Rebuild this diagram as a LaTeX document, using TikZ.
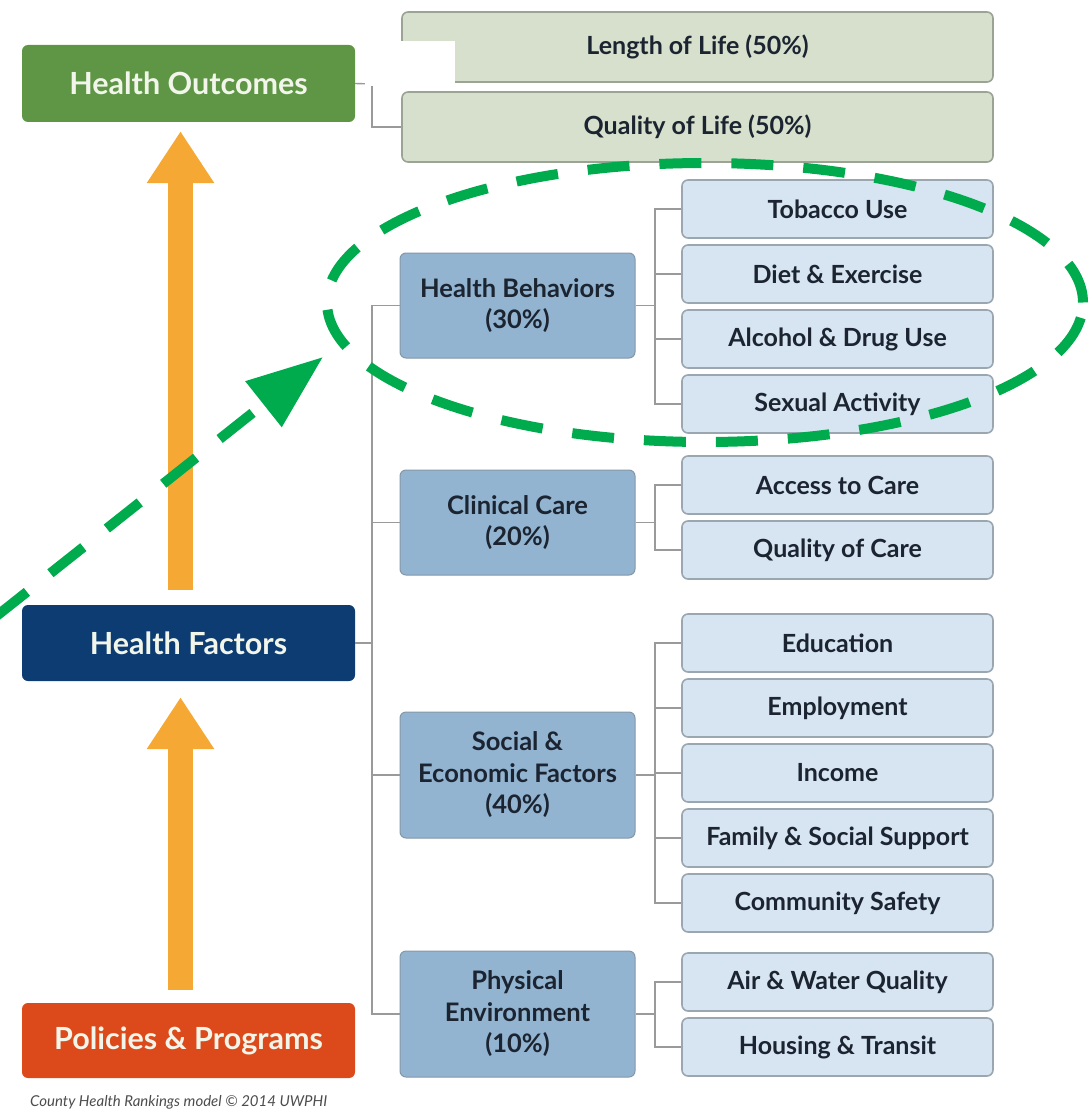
\documentclass[tikz,border=0pt]{standalone}
\usepackage{fontspec}
\setmainfont{Lato}
\usetikzlibrary{arrows.meta}
\definecolor{outgreen}{HTML}{5E9646}
\definecolor{lifegreen}{HTML}{D6E0CC}
\definecolor{lifeborder}{HTML}{9AA394}
\definecolor{factblue}{HTML}{0C3C72}
\definecolor{polred}{HTML}{DC4A1C}
\definecolor{midblue}{HTML}{92B4D0}
\definecolor{midborder}{HTML}{8497A8}
\definecolor{lightblue}{HTML}{D6E5F1}
\definecolor{lightborder}{HTML}{9AA6B0}
\definecolor{arrorange}{HTML}{F5A833}
\definecolor{dashgreen}{HTML}{00AB4E}
\definecolor{txtdark}{HTML}{1B2430}
\definecolor{txtlight}{HTML}{F2F6EA}
\definecolor{conngray}{HTML}{9A9A9A}
\tikzset{
  bigbox/.style={rounded corners=6pt, minimum width=333pt, text=txtlight,
    font=\fontsize{30.5}{34}\selectfont\bfseries, inner sep=0pt},
  lifebox/.style={rounded corners=6pt, draw=lifeborder, line width=1.6pt, fill=lifegreen,
    minimum width=591pt, minimum height=70pt, text=txtdark,
    font=\fontsize{25}{28}\selectfont\bfseries, inner sep=0pt},
  catbox/.style={rounded corners=6pt, draw=midborder, line width=1pt, fill=midblue,
    minimum width=235pt, text=txtdark, align=center,
    font=\fontsize{25.5}{31.5}\selectfont\bfseries, inner sep=0pt},
  subbox/.style={rounded corners=6pt, draw=lightborder, line width=1.6pt, fill=lightblue,
    minimum width=311pt, minimum height=58pt, text=txtdark,
    font=\fontsize{25}{28}\selectfont\bfseries, inner sep=0pt},
  conn/.style={draw=conngray, line width=1.4pt},
  uparrow/.style={draw=arrorange, line width=25pt,
    -{Triangle[length=52pt,width=64pt]}},
  greendash/.style={draw=dashgreen, line width=10pt, dash pattern=on 42pt off 30pt}
}
\begin{document}
\begin{tikzpicture}[x=1pt,y=-1pt]
\useasboundingbox (0,0) rectangle (1088,1113);
% left column
\node[bigbox, fill=outgreen, minimum height=77pt] (ho) at (188.5,83.5) {Health Outcomes};
\node[bigbox, fill=factblue, minimum height=76pt] (hf) at (188.5,643) {Health Factors};
\node[bigbox, fill=polred, minimum height=75pt] (pp) at (188.5,1040.5) {Policies \& Programs};
\node[text=black!70, font=\fontsize{15}{18}\selectfont\itshape, anchor=west, inner sep=0pt] (cr) at (30,1102) {County Health Rankings model \textcopyright{} 2014 UWPHI};
% orange arrows
\draw[uparrow, shorten <=15pt, shorten >=9pt] ([xshift=-8pt]hf.north) -- ([xshift=-8pt]ho.south);
\draw[uparrow, shorten <=13pt, shorten >=16pt] ([xshift=-8pt]pp.north) -- ([xshift=-8pt]hf.south);
% outcomes
\node[lifebox] (lol) at (697.5,47) {Length of Life (50\%)};
\node[lifebox] (qol) at (697.5,127) {Quality of Life (50\%)};
\coordinate (t0) at (372,84);
\draw[conn] (ho.east) -- (t0);
\draw[conn] (lol.west) -| (t0) |- (qol.west);
\fill[white] (365,41) rectangle (455,86);
% factor categories
\node[catbox, minimum height=105pt] (hb) at (517.5,305.5) {Health Behaviors\\(30\%)};
\node[catbox, minimum height=105pt] (cc) at (517.5,522.5) {Clinical Care\\(20\%)};
\node[catbox, minimum height=126pt] (se) at (517.5,775) {Social \&\\Economic Factors\\(40\%)};
\node[catbox, minimum height=126pt] (pe) at (517.5,1014) {Physical\\Environment\\(10\%)};
\coordinate (hf0) at (372,643);
\draw[conn] (hf.east) -- (hf0);
\draw[conn] (hb.west) -| (hf0) |- (pe.west);
\draw[conn] (cc.west) -- (cc.west -| hf0);
\draw[conn] (se.west) -- (se.west -| hf0);
% sub boxes
\node[subbox] (tob) at (837.5,209) {Tobacco Use};
\node[subbox] (die) at (837.5,274) {Diet \& Exercise};
\node[subbox] (alc) at (837.5,339) {Alcohol \& Drug Use};
\node[subbox] (sex) at (837.5,404) {Sexual Activity};
\node[subbox] (acc) at (837.5,485) {Access to Care};
\node[subbox] (qoc) at (837.5,550) {Quality of Care};
\node[subbox] (edu) at (837.5,643) {Education};
\node[subbox] (emp) at (837.5,708) {Employment};
\node[subbox] (inc) at (837.5,773) {Income};
\node[subbox] (fam) at (837.5,838) {Family \& Social Support};
\node[subbox] (com) at (837.5,903) {Community Safety};
\node[subbox] (air) at (837.5,982) {Air \& Water Quality};
\node[subbox] (hou) at (837.5,1047) {Housing \& Transit};
\coordinate (jx) at (655,0);
\draw[conn] (hb.east) -- (hb.east -| jx);
\draw[conn] (tob.west) -| (jx |- sex.west) -- (sex.west);
\draw[conn] (die.west) -- (die.west -| jx);
\draw[conn] (alc.west) -- (alc.west -| jx);
\draw[conn] (cc.east) -- (cc.east -| jx);
\draw[conn] (acc.west) -| (jx |- qoc.west) -- (qoc.west);
\draw[conn] (se.east) -- (se.east -| jx);
\draw[conn] (edu.west) -| (jx |- com.west) -- (com.west);
\draw[conn] (emp.west) -- (emp.west -| jx);
\draw[conn] (inc.west) -- (inc.west -| jx);
\draw[conn] (fam.west) -- (fam.west -| jx);
\draw[conn] (pe.east) -- (pe.east -| jx);
\draw[conn] (air.west) -| (jx |- hou.west) -- (hou.west);
% green highlight
\draw[greendash] (705,302.5) ellipse [x radius=378pt, y radius=139.5pt];
\coordinate (gs) at (-6,618);
\coordinate (gt) at (323,357);
\draw[greendash, -{Triangle[length=76pt,width=56pt]}] (gs) -- (gt);
\end{tikzpicture}
\end{document}
